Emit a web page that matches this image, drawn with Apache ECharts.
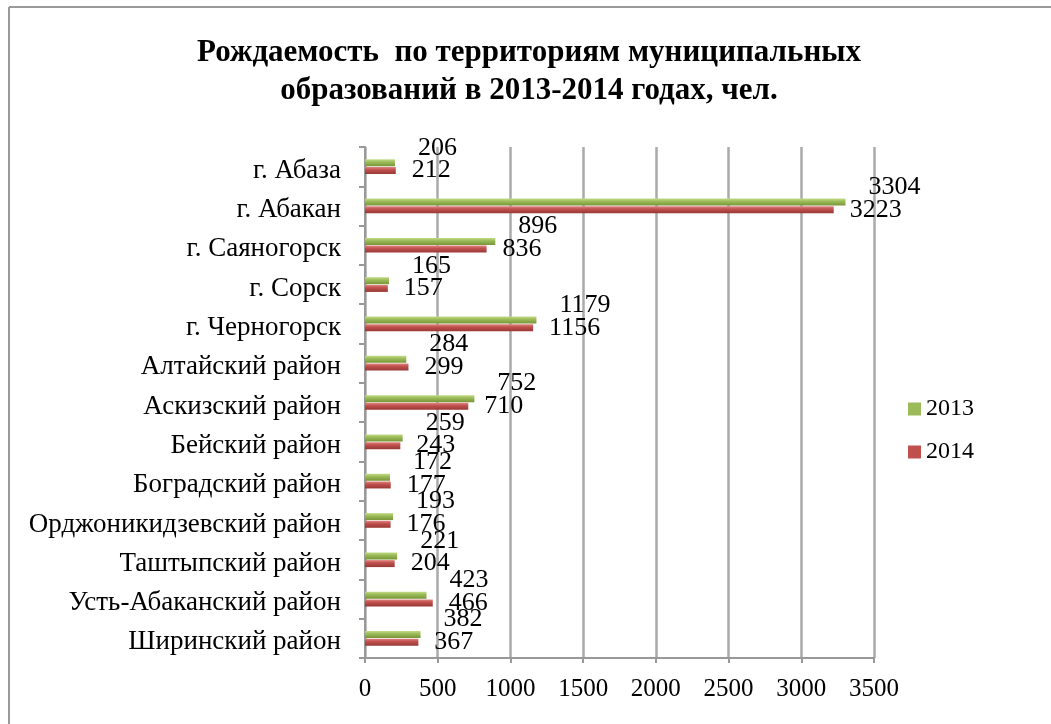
<!DOCTYPE html>
<html>
<head>
<meta charset="utf-8">
<script src="https://cdn.jsdelivr.net/npm/echarts@6/dist/echarts.min.js"></script>
<style>
  html, body { margin: 0; padding: 0; background: #fff; }
  #chart { width: 1051px; height: 724px; }
</style>
</head>
<body>
<div id="chart"></div>
<script>
const categories = ['г. Абаза', 'г. Абакан', 'г. Саяногорск', 'г. Сорск', 'г. Черногорск',
  'Алтайский район', 'Аскизский район', 'Бейский район', 'Боградский район',
  'Орджоникидзевский район', 'Таштыпский район', 'Усть-Абаканский район', 'Ширинский район'];
const values2013 = [206, 3304, 896, 165, 1179, 284, 752, 259, 172, 193, 221, 423, 382];
const values2014 = [212, 3223, 836, 157, 1156, 299, 710, 243, 177, 176, 204, 466, 367];
const seriesNames = ['2013', '2014'];
const seriesColors = ['#9BBB59', '#C0504D'];

const serif = '"Liberation Serif", "DejaVu Serif", serif';

const chart = echarts.init(document.getElementById('chart'));

// лёгкий объём у столбиков
const grad = (top, mid, bot) => new echarts.graphic.LinearGradient(0, 0, 0, 1, [
  { offset: 0, color: top }, { offset: 0.4, color: mid }, { offset: 1, color: bot }
]);

const option = {
  backgroundColor: '#fff',
  animation: false,
  color: seriesColors,
  title: {
    text: 'Рождаемость  по территориям муниципальных\nобразований в 2013-2014 годах, чел.',
    left: 524,
    textAlign: 'center',
    top: 29,
    textStyle: {
      fontFamily: serif,
      fontWeight: 'bold',
      fontSize: 31,
      lineHeight: 38,
      color: '#000'
    }
  },
  legend: {
    orient: 'vertical',
    left: 903,
    top: 392,
    itemGap: 19,
    itemWidth: 13,
    itemHeight: 13,
    icon: 'rect',
    textStyle: { fontFamily: serif, fontSize: 24, color: '#000' },
    data: seriesNames.map((n, i) => ({ name: n, itemStyle: { color: seriesColors[i] } }))
  },
  grid: { left: 365, right: 177, top: 147, bottom: 66 },
  xAxis: {
    type: 'value',
    min: 0,
    max: 3500,
    interval: 500,
    axisLine: { show: true, lineStyle: { color: '#999', width: 2 } },
    axisTick: { show: true, length: 5, lineStyle: { color: '#999', width: 2 } },
    axisLabel: {
      fontFamily: serif, fontSize: 25, color: '#000', margin: 19,
      formatter: (v) => String(v)
    },
    splitLine: { show: true, lineStyle: { color: '#aaa', width: 2.5 } }
  },
  yAxis: {
    type: 'category',
    inverse: true,
    data: categories,
    axisLine: { show: true, lineStyle: { color: '#999', width: 2 } },
    axisTick: { show: true, length: 6, lineStyle: { color: '#999', width: 2 } },
    axisLabel: {
      margin: 24,
      formatter: (v) => '{c|' + v + '}',
      rich: {
        c: { fontFamily: serif, fontSize: 27, color: '#000', padding: [8, 0, 0, 0] }
      }
    }
  },
  series: [
    {
      name: seriesNames[0],
      type: 'bar',
      data: values2013,
      barWidth: 7,
      barGap: '10%',
      itemStyle: { color: grad('#c3dc86', '#9BBB59', '#789537') },
      label: {
        show: true,
        position: 'right',
        distance: 23,
        offset: [0, -15],
        fontFamily: serif,
        fontSize: 26,
        color: '#000'
      }
    },
    {
      name: seriesNames[1],
      type: 'bar',
      data: values2014,
      barWidth: 7,
      itemStyle: { color: grad('#e08582', '#C0504D', '#983835') },
      label: {
        show: true,
        position: 'right',
        distance: 16,
        offset: [0, 0],
        fontFamily: serif,
        fontSize: 26,
        color: '#000'
      }
    }
  ],
  graphic: [
    { type: 'line', shape: { x1: 9, y1: 7, x2: 1051, y2: 7 }, style: { stroke: '#999', lineWidth: 2 } },
    { type: 'line', shape: { x1: 9, y1: 7, x2: 9, y2: 724 }, style: { stroke: '#999', lineWidth: 2 } }
  ]
};

chart.setOption(option);
window.addEventListener('resize', () => {
  chart.resize();
});
</script>
</body>
</html>
